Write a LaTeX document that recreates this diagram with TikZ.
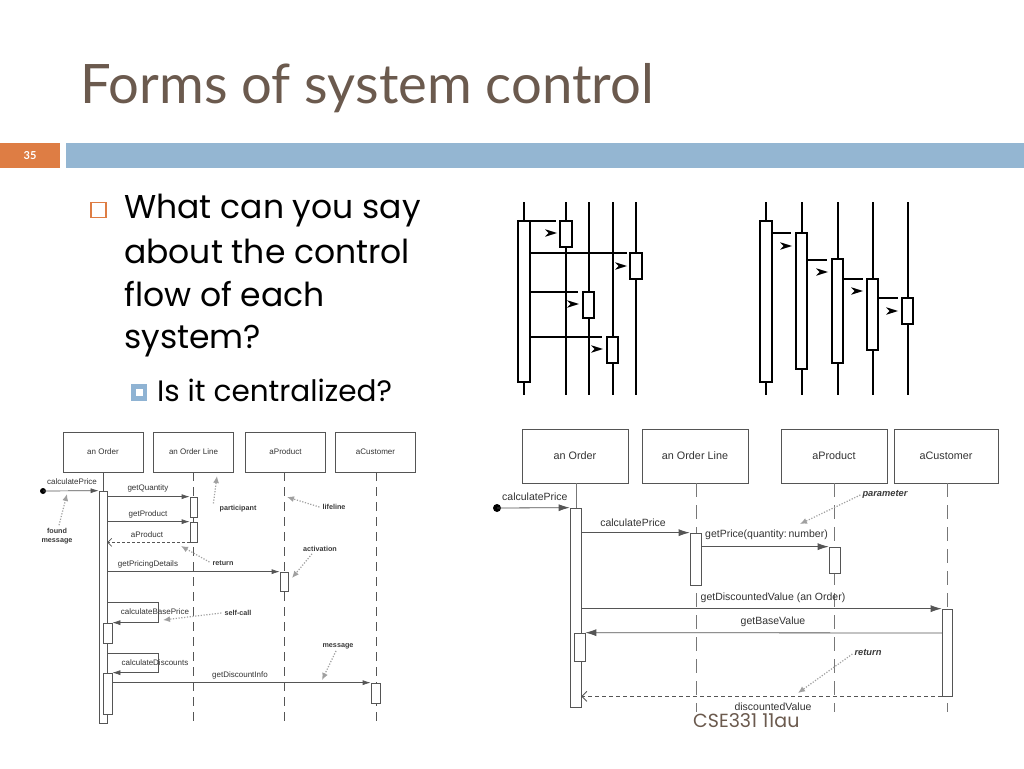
\documentclass[tikz,border=0pt]{standalone}
\usepackage{fontspec}
\setmainfont{Lato}
\newfontfamily\bodyf{Poppins}
\newfontfamily\diag{Liberation Sans}
\usetikzlibrary{arrows.meta}
\definecolor{titlec}{HTML}{6B5A4E}
\definecolor{orng}{HTML}{DE7D44}
\definecolor{barblue}{HTML}{94B6D2}
\definecolor{subblue}{HTML}{8FB3D3}
\definecolor{lgray}{HTML}{555555}
\definecolor{ltext}{HTML}{333333}
\definecolor{notegray}{HTML}{A0A0A0}
\definecolor{notetext}{HTML}{3A3A3A}
\tikzset{
  tbox/.style={draw, fill=white, line width=2pt, inner sep=0pt, minimum width=12pt},
  tline/.style={line width=2pt},
  chev/.pic={\fill (-6,-3.8) -- (6,0) -- (-6,3.8) -- (-2.5,0) -- cycle;},
  hdL/.style={draw=lgray, line width=0.7pt, minimum width=80pt, minimum height=40pt, inner sep=0pt, font=\diag\fontsize{8}{9}\selectfont, text=ltext},
  hdR/.style={draw=lgray, line width=0.7pt, minimum width=106pt, minimum height=54pt, inner sep=0pt, font=\diag\fontsize{10.8}{12}\selectfont, text=ltext},
  actL/.style={draw=lgray, fill=white, line width=0.7pt, inner sep=0pt, minimum width=8pt},
  actR/.style={draw=lgray, fill=white, line width=0.7pt, inner sep=0pt, minimum width=11pt},
  lifeL/.style={draw=lgray, line width=0.7pt, dash pattern=on 9pt off 6pt},
  lifeR/.style={draw=lgray!80, line width=0.8pt, dash pattern=on 14pt off 8pt},
  msgL/.style={draw=lgray, line width=0.7pt, -{Latex[length=8pt,width=5pt]}},
  retL/.style={draw=lgray, line width=0.7pt, dash pattern=on 3pt off 2pt, -{Straight Barb[length=4pt,width=8pt]}},
  msgR/.style={draw=lgray, line width=0.8pt, -{Latex[length=11pt,width=7pt]}},
  retR/.style={draw=lgray, line width=0.8pt, dash pattern=on 4pt off 3pt, -{Straight Barb[length=5pt,width=10pt]}},
  labL/.style={font=\diag\fontsize{8}{9}\selectfont, text=ltext, inner sep=0pt},
  labR/.style={font=\diag\fontsize{10.5}{12}\selectfont, text=ltext, inner sep=0pt},
  noteL/.style={font=\diag\bfseries\fontsize{7.2}{8.4}\selectfont, text=notetext, inner sep=0pt, align=center},
  noteR/.style={font=\diag\bfseries\itshape\fontsize{9.3}{11}\selectfont, text=notetext, inner sep=0pt},
  narrow/.style={draw=notegray, line width=1.2pt, dash pattern=on 1.2pt off 1.6pt, -{Latex[length=7pt,width=6pt]}},
  dotstart/.style={circle, fill=black, inner sep=0pt, minimum size=#1},
  bodyline/.style={anchor=base west, inner sep=0pt, font=\bodyf\fontsize{33}{40}\selectfont},
}
\begin{document}
\begin{tikzpicture}[x=1pt,y=-1pt]
\useasboundingbox[fill=white] (0,0) rectangle (1024,768);

% ---------- slide frame ----------
\node[anchor=base west, inner sep=0pt, text=titlec, font=\fontsize{54.4}{60}\selectfont] (title) at (80,103) {Forms of system control};
\fill[orng] (0,143) rectangle (60,168);
\fill[barblue] (66,143) rectangle (1024,168);
\node[text=white, font=\bfseries\fontsize{11}{13}\selectfont, inner sep=0pt] (num) at (30,155.5) {35};

\node[draw=orng, line width=1.3pt, minimum size=15pt, inner sep=0pt] (b1) at (98.5,210) {};
\node[bodyline] (q1) at (124,218) {What can you say};
\node[bodyline] (q2) at (124,263) {about the control};
\node[bodyline] (q3) at (124,306) {flow of each};
\node[bodyline] (q4) at (124,348) {system?};
\fill[subblue] (131,384) rectangle (147,401);
\node[fill=white, minimum size=7pt, inner sep=0pt] (b2) at (139,392.5) {};
\node[anchor=base west, inner sep=0pt, font=\bodyf\fontsize{29.5}{34}\selectfont] (q5) at (157,401) {Is it centralized?};

\node[anchor=base west, inner sep=0pt, text=titlec, font=\bodyf\fontsize{19}{22}\selectfont] (foot) at (693,727) {CSE331 11au};

% ---------- top-right diagram 1 (centralized) ----------
\foreach \x in {524,566,588.5,612.5,636}{\draw[tline] (\x,202) -- (\x,395);}
\node[tbox, minimum height=161pt] (A1) at (524,301.5) {};
\node[tbox, minimum height=26pt] (B1) at (566,234) {};
\node[tbox, minimum height=26pt] (C1) at (636,266) {};
\node[tbox, minimum height=26pt, minimum width=11pt] (D1) at (588.5,305) {};
\node[tbox, minimum height=26pt, minimum width=11pt] (E1) at (612.5,350) {};
\coordinate (c1a) at (556,221);
\coordinate (c1b) at (627,253);
\coordinate (c1c) at (578,292);
\coordinate (c1d) at (602,337);
\draw[tline] (A1.east |- c1a) -- (c1a);
\draw[tline] (A1.east |- c1b) -- (c1b);
\draw[tline] (A1.east |- c1c) -- (c1c);
\draw[tline] (A1.east |- c1d) -- (c1d);
\pic at (551,233) {chev};
\pic at (621,266) {chev};
\pic at (573,304) {chev};
\pic at (597,349) {chev};

% ---------- top-right diagram 2 (decentralized) ----------
\foreach \x in {766,801.5,837.5,872.5,907.5}{\draw[tline] (\x,202) -- (\x,395);}
\node[tbox, minimum height=161pt] (A2) at (766,301.5) {};
\node[tbox, minimum height=136pt, minimum width=11pt] (B2) at (801.5,301) {};
\node[tbox, minimum height=104pt, minimum width=11pt] (C2) at (837.5,311) {};
\node[tbox, minimum height=71pt, minimum width=11pt] (D2) at (872.5,314.5) {};
\node[tbox, minimum height=26pt, minimum width=11pt] (E2) at (907.5,311) {};
\coordinate (c2a) at (791,233);
\coordinate (c2b) at (827,260);
\coordinate (c2c) at (863,279);
\coordinate (c2d) at (898,298);
\draw[tline] (A2.east |- c2a) -- (c2a);
\draw[tline] (B2.east |- c2b) -- (c2b);
\draw[tline] (C2.east |- c2c) -- (c2c);
\draw[tline] (D2.east |- c2d) -- (c2d);
\pic at (786,246) {chev};
\pic at (822,272) {chev};
\pic at (857,291) {chev};
\pic at (892,311) {chev};

% ---------- left sequence diagram ----------
\node[hdL] (LO) at (103,452) {an Order};
\node[hdL] (LL) at (193.5,452) {an Order Line};
\node[hdL] (LP) at (285.5,452) {aProduct};
\node[hdL] (LC) at (375.5,452) {aCustomer};
\draw[draw=lgray, line width=0.7pt] (LO.south) -- (103,491);
\draw[lifeL] (193.5,472) -- (193.5,725);
\draw[lifeL] (284,472) -- (284,725);
\draw[lifeL] (376,472) -- (376,725);

\node[actL, minimum height=232pt] (LOa) at (103,607) {};
\node[actL, minimum width=7pt, minimum height=20pt] (LLa1) at (193.5,507) {};
\node[actL, minimum width=7pt, minimum height=20pt] (LLa2) at (193.5,532) {};
\node[actL, minimum height=19pt] (LPa) at (284,581.5) {};
\node[actL, minimum width=9pt, minimum height=20pt] (LOn1) at (107.5,633) {};
\node[actL, minimum width=9pt, minimum height=41pt] (LOn2) at (107.5,693.5) {};
\node[actL, minimum width=9pt, minimum height=20pt] (LCa) at (375.5,693) {};

\node[dotstart=6pt] (Lfound) at (43,491) {};
\draw[msgL] (Lfound.center) -- (LOa.north west);
\node[labL] (lcp) at (72,482) {calculatePrice};
\draw[msgL] (LOa.east |- LLa1.north) -- (LLa1.north west);
\node[labL] (lgq) at (148,488) {getQuantity};
\draw[msgL] (LOa.east |- LLa2.north) -- (LLa2.north west);
\node[labL] (lgp) at (148,514) {getProduct};
\draw[retL] (LLa2.south west) -- (LOa.east |- LLa2.south);
\node[labL] (lap) at (147,535) {aProduct};
\draw[msgL] (LOa.east |- LPa.north) -- (LPa.north west);
\node[labL] (lgpd) at (148,564) {getPricingDetails};
\coordinate (sc1) at (158,602);
\draw[msgL] (LOa.east |- sc1) -- (sc1) -- (sc1 |- LOn1.north) -- (LOn1.north east);
\node[labL] (lcbp) at (155,612) {calculateBasePrice};
\coordinate (sc2) at (158,653);
\draw[msgL] (LOa.east |- sc2) -- (sc2) -- (sc2 |- LOn2.north) -- (LOn2.north east);
\node[labL] (lcd) at (155,663) {calculateDiscounts};
\draw[msgL] (LOn2.east |- LCa.north) -- (LCa.north west);
\node[labL] (lgdi) at (240,675) {getDiscountInfo};

% annotations
\node[noteL] (nfm) at (57,536) {found\\message};
\draw[narrow] (nfm.north) ++(2,-3) -- (67,494);
\node[noteL] (npart) at (238,509) {participant};
\draw[narrow] (npart.north west) ++(-6,-2) -- (217,476);
\node[noteL] (nlife) at (334,507) {lifeline};
\draw[narrow] (nlife.west) ++(-3,0) -- (287,497);
\node[noteL] (nret) at (223,563) {return};
\draw[narrow] (nret.west) ++(-3,-1) -- (181,546);
\node[noteL] (nact) at (320,549) {activation};
\draw[narrow] (nact.south) ++(-8,2) -- (292,578);
\node[noteL] (nself) at (238,613) {self-call};
\draw[narrow] (nself.west) ++(-3,0) -- (163,620);
\node[noteL] (nmsg) at (338,646) {message};
\draw[narrow] (nmsg.south) ++(-2,2) -- (322,680);

% ---------- right sequence diagram ----------
\node[hdR] (RO) at (575,456) {an Order};
\node[hdR] (RL) at (695,456) {an Order Line};
\node[hdR] (RP) at (834,456) {aProduct};
\node[hdR, minimum width=104pt] (RC) at (946,456) {aCustomer};
\draw[draw=lgray!80, line width=0.8pt] (RO.south) ++(1,0) -- (576,508);
\draw[lifeR] (696,483) -- (696,712);
\draw[lifeR] (834,483) -- (834,712);
\draw[lifeR] (947,483) -- (947,712);

\node[actR, minimum height=199pt] (ROa) at (575.5,607.5) {};
\node[actR, minimum height=52pt] (RLa) at (695.5,559) {};
\node[actR, minimum height=26pt] (RPa) at (834.5,560) {};
\node[actR, minimum width=10pt, minimum height=87pt] (RCa) at (947,652.5) {};
\node[actR, minimum height=28pt] (ROn) at (579.5,647) {};

\node[dotstart=8pt] (Rfound) at (497,508) {};
\draw[msgR] (Rfound.center) -- (ROa.north west);
\node[labR, anchor=west] (rcp) at (502,497) {calculatePrice};
\draw[msgR] (ROa.east |- RLa.north) -- (RLa.north west);
\node[labR] (rcp2) at (633,523) {calculatePrice};
\draw[msgR] (RLa.east |- RPa.north) -- (RPa.north west);
\node[labR, anchor=west] (rgp) at (705,535) {getPrice(quantity:\,number)};
\draw[msgR] (ROa.east |- RCa.north) -- (RCa.north west);
\node[labR] (rgdv) at (773,598) {getDiscountedValue (an Order)};
\coordinate (gbv) at (942,633);
\draw[msgR] (gbv) -- (ROn.north east);
\node[labR] (rgbv) at (773,622) {getBaseValue};
\draw[retR] (RCa.south west) -- (ROa.east |- RCa.south);
\node[labR] (rdv) at (773,707) {discountedValue};

\node[noteR] (npar) at (885,494) {parameter};
\draw[narrow] (npar.west) ++(-2,1) -- (800,524);
\node[noteR] (nret2) at (868,653) {return};
\draw[narrow] (nret2.west) ++(-2,1) -- (798,693);
\end{tikzpicture}
\end{document}
